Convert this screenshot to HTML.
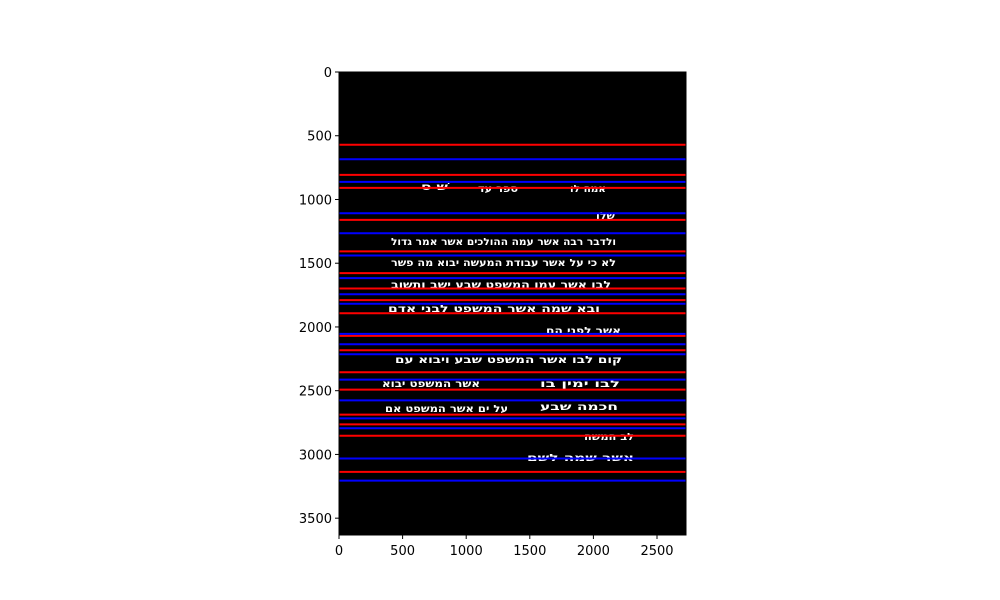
<!DOCTYPE html>
<html><head><meta charset="utf-8"><style>
html,body{margin:0;padding:0;background:#fff;width:1000px;height:600px;overflow:hidden}
svg text{font-family:"DejaVu Sans","Liberation Sans",sans-serif}
</style></head><body>
<svg id="chart" width="1000" height="600" xmlns="http://www.w3.org/2000/svg">
<rect x="339" y="72" width="347" height="463" fill="#000"/>
<g id="handwriting" fill="#fff" font-weight="bold" font-size="10">
<text x="421" y="190" textLength="27" lengthAdjust="spacingAndGlyphs">שׁ ס</text>
<text x="478" y="192" textLength="40" lengthAdjust="spacingAndGlyphs">ספר עד</text>
<text x="570" y="192" textLength="36" lengthAdjust="spacingAndGlyphs">אמה לו</text>
<text x="596" y="219" textLength="19" lengthAdjust="spacingAndGlyphs">שלו</text>
<text x="391" y="245" textLength="225" lengthAdjust="spacingAndGlyphs">ולדבר רבה אשר עמה ההולכים אשר אמר גדול</text>
<text x="391" y="266" textLength="225" lengthAdjust="spacingAndGlyphs">לא כי על אשר עבודת המעשה יבוא מה פשר</text>
<text x="391" y="288" textLength="220" lengthAdjust="spacingAndGlyphs">לבו אשר עמו המשפט שבע ישב ותשוב</text>
<text x="388" y="312" textLength="212" lengthAdjust="spacingAndGlyphs">ובא  שמה  אשר המשפט לבני אדם</text>
<text x="546" y="334" textLength="75" lengthAdjust="spacingAndGlyphs">אשר לפני הם</text>
<text x="395" y="363" textLength="227" lengthAdjust="spacingAndGlyphs">קום לבו אשר המשפט שבע ויבוא עם</text>
<text x="382" y="387" textLength="98" lengthAdjust="spacingAndGlyphs">אשר המשפט יבוא</text>
<text x="540" y="387" textLength="80" lengthAdjust="spacingAndGlyphs">לבו ימין בו</text>
<text x="385" y="412" textLength="123" lengthAdjust="spacingAndGlyphs">על ים אשר המשפט אם</text>
<text x="540" y="410" textLength="78" lengthAdjust="spacingAndGlyphs">חכמה שבע</text>
<text x="584" y="440" textLength="50" lengthAdjust="spacingAndGlyphs">לב המשה</text>
<text x="527" y="461" textLength="107" lengthAdjust="spacingAndGlyphs">אשר  שמה  לשם</text>
</g>
<g id="lines"></g>
<g id="axes" font-size="13" fill="#000"></g>
<rect x="339" y="72" width="347" height="463" fill="none" stroke="#000" stroke-width="1"/>
</svg>
<script>
const redLines = [571, 807, 909, 1160, 1407, 1578, 1698, 1790, 1892, 2070, 2183, 2355, 2492, 2688, 2764, 2853, 3137];
const blueLines = [684, 862, 1108, 1265, 1439, 1617, 1743, 1818, 2054, 2136, 2214, 2413, 2576, 2717, 2795, 3032, 3205];
const xTicks = [0, 500, 1000, 1500, 2000, 2500];
const yTicks = [0, 500, 1000, 1500, 2000, 2500, 3000, 3500];
const xMax = 2728, yMax = 3632;
const L = 339, R = 686, T = 72, B = 535;
const xs = v => L + v / xMax * (R - L);
const ys = v => T + v / yMax * (B - T);
const NS = "http://www.w3.org/2000/svg";
const lg = document.getElementById('lines');
function hline(v, color, name) {
  const l = document.createElementNS(NS, 'line');
  l.setAttribute('x1', L); l.setAttribute('x2', R);
  l.setAttribute('y1', ys(v)); l.setAttribute('y2', ys(v));
  l.setAttribute('stroke', color); l.setAttribute('stroke-width', '2');
  
  
  lg.appendChild(l);
}
redLines.forEach(v => hline(v, '#ff0000', 'red-line'));
blueLines.forEach(v => hline(v, '#0000ff', 'blue-line'));
const ax = document.getElementById('axes');
xTicks.forEach(v => {
  const t = document.createElementNS(NS, 'line');
  t.setAttribute('x1', xs(v)); t.setAttribute('x2', xs(v));
  t.setAttribute('y1', B); t.setAttribute('y2', B + 4);
  t.setAttribute('stroke', '#000');
  
  
  ax.appendChild(t);
  const s = document.createElementNS(NS, 'text');
  s.setAttribute('x', xs(v)); s.setAttribute('y', B + 20);
  s.setAttribute('text-anchor', 'middle');
  s.textContent = v;
  
  
  ax.appendChild(s);
});
yTicks.forEach(v => {
  const t = document.createElementNS(NS, 'line');
  t.setAttribute('x1', L - 4); t.setAttribute('x2', L);
  t.setAttribute('y1', ys(v)); t.setAttribute('y2', ys(v));
  t.setAttribute('stroke', '#000');
  
  
  ax.appendChild(t);
  const s = document.createElementNS(NS, 'text');
  s.setAttribute('x', L - 7); s.setAttribute('y', ys(v) + 5);
  s.setAttribute('text-anchor', 'end');
  s.textContent = v;
  
  
  ax.appendChild(s);
});
</script>
</body></html>
